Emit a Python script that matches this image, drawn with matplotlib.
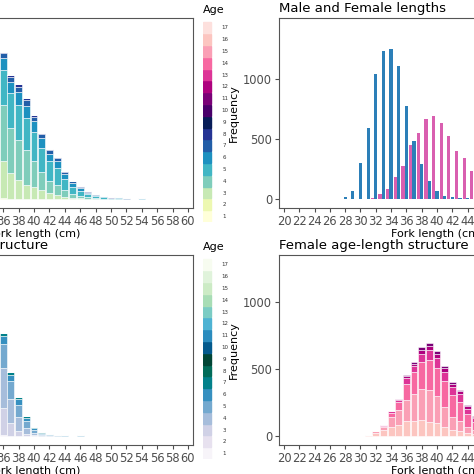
import numpy as np
import matplotlib
matplotlib.use("Agg")
import matplotlib.pyplot as plt

# fork length classes
male_len = list(range(28, 47))
# male counts by age (ages 2..7) per length class
male_ages = [2, 3, 4, 5, 6, 7]
male_cnt = [
    [15, 5, 0, 0, 0, 0], [40, 25, 2, 0, 0, 0], [120, 150, 25, 2, 0, 0],
    [150, 330, 100, 12, 2, 0], [170, 560, 260, 45, 7, 0], [120, 620, 390, 85, 15, 3],
    [80, 540, 460, 130, 30, 7], [40, 400, 450, 160, 45, 13], [10, 200, 300, 175, 62, 25],
    [3, 95, 180, 130, 50, 22], [0, 40, 100, 95, 40, 17], [0, 15, 45, 50, 28, 12],
    [0, 5, 18, 25, 14, 7], [0, 2, 6, 10, 7, 3], [0, 1, 3, 5, 4, 2],
    [0, 0, 2, 4, 3, 1], [0, 0, 1, 2, 1, 1], [0, 0, 1, 1, 1, 0], [0, 0, 1, 2, 1, 1],
]
fem_len = list(range(30, 61))
# female counts by age (ages 3..8) per length class
fem_ages = [3, 4, 5, 6, 7, 8]
fem_cnt = [
    [3, 0, 0, 0, 0, 0], [7, 1, 0, 0, 0, 0], [25, 12, 3, 0, 0, 0], [45, 25, 8, 2, 0, 0],
    [70, 70, 35, 8, 3, 0], [85, 110, 60, 15, 5, 0], [110, 160, 120, 40, 15, 8],
    [115, 200, 160, 45, 20, 10], [122, 226, 204, 62, 30, 23], [105, 240, 220, 75, 34, 20],
    [95, 200, 215, 75, 30, 18], [70, 150, 190, 70, 30, 15], [45, 100, 160, 60, 25, 13],
    [35, 80, 140, 55, 22, 10], [20, 50, 95, 40, 17, 8], [12, 30, 60, 30, 12, 6],
    [6, 18, 40, 22, 9, 5], [3, 10, 25, 16, 7, 4], [2, 6, 17, 12, 5, 3], [1, 3, 10, 8, 3, 2],
    [0, 1, 5, 4, 2, 1], [0, 2, 6, 6, 2, 2], [0, 0, 2, 2, 1, 0], [0, 0, 1, 1, 1, 0],
    [0, 1, 3, 3, 2, 1], [0, 0, 1, 2, 1, 0], [0, 0, 1, 2, 1, 0], [0, 0, 1, 2, 1, 0],
    [0, 0, 1, 2, 1, 0], [0, 0, 1, 2, 1, 0], [0, 0, 1, 2, 1, 0],
]
ages = list(range(1, 18))

pal_all = ["#ffffd9", "#edf8b1", "#c7e9b4", "#7fcdbb", "#41b6c4", "#1d91c0", "#225ea8",
           "#253494", "#081d58", "#49006a", "#7a0177", "#ae017e", "#dd3497", "#f768a1",
           "#fa9fb5", "#fcc5c0", "#fde0dd"]
pal_male = ["#f7f4f9", "#e7e1ef", "#d0d1e6", "#a6bddb", "#74a9cf", "#3690c0", "#02818a",
            "#016c59", "#014636", "#045a8d", "#2b8cbe", "#4eb3d3", "#7bccc4", "#a8ddb5",
            "#ccebc5", "#e0f3db", "#f7fcf0"]
pal_fem = ["#fcc5c0", "#fa9fb5", "#f768a1", "#dd3497", "#ae017e", "#7a0177"]

W = 474.0
def box(l, t, r, b):
    return [l / W, 1 - b / W, (r - l) / W, (b - t) / W]

fig = plt.figure(figsize=(4.74, 4.74), dpi=100)
tcol = "#4d4d4d"

def style(ax, ylim, title=None, ylabel=True):
    ax.set_xlim(19.35, 60.65)
    ax.set_ylim(*ylim)
    ax.set_xticks(range(20, 61, 2))
    ax.set_yticks([0, 500, 1000])
    ax.tick_params(colors=tcol, labelsize=8.3, length=3, labelcolor=tcol, pad=2)
    for s in ax.spines.values():
        s.set_color("#555555")
    ax.set_xlabel("Fork length (cm)", fontsize=8, labelpad=1)
    if ylabel:
        ax.set_ylabel("Frequency", fontsize=8, labelpad=3)
    if title:
        ax.set_title(title, loc="left", fontsize=9.5, pad=4)

def stack(ax, x, cnt, colors):
    cnt = np.array(cnt, dtype=float)
    bottom = np.zeros(len(x))
    for k in range(cnt.shape[1]):
        ax.bar(x, cnt[:, k], bottom=bottom, width=0.9, color=colors[k],
               edgecolor="white", linewidth=0.4)
        bottom += cnt[:, k]

def legend(ax, pal):
    for i, a in enumerate(ages):
        ax.add_patch(plt.Rectangle((0, i), 1, 0.92, color=pal[i]))
        ax.text(2.6, i + 0.45, str(a), fontsize=4, va="center", ha="center", color="#333333")
    ax.text(0, 17.5, "Age", fontsize=8, va="bottom")
    ax.set_xlim(0, 3.5)
    ax.set_ylim(0, 18.3)
    ax.axis("off")

# total
all_len = list(range(28, 61))
tot = np.zeros((len(all_len), 17))
for i, L in enumerate(male_len):
    for k, a in enumerate(male_ages):
        tot[all_len.index(L), a - 1] += male_cnt[i][k]
for i, L in enumerate(fem_len):
    for k, a in enumerate(fem_ages):
        tot[all_len.index(L), a - 1] += fem_cnt[i][k]

ax1 = fig.add_axes(box(-125, 18, 193, 208))
stack(ax1, all_len, tot, pal_all)
style(ax1, (-75, 1508), ylabel=False)
legend(fig.add_axes(box(203, 6, 232, 222)), pal_all)

ax2 = fig.add_axes(box(279, 18, 595, 208))
ax2.bar(male_len, np.array(male_cnt).sum(axis=1), width=0.42, color="#2c7fb8")
ax2.bar(np.array(fem_len) + 0.55, np.array(fem_cnt).sum(axis=1), width=0.42, color="#d95fb0")
style(ax2, (-75, 1508), title="Male and Female lengths")

ax3 = fig.add_axes(box(-125, 255, 193, 445))
mc = np.zeros((len(male_len), 17))
mc[:, 1:7] = male_cnt
stack(ax3, male_len, mc, pal_male)
style(ax3, (-67, 1350), title="Male age-length structure", ylabel=False)
legend(fig.add_axes(box(203, 243, 232, 459)), pal_male)

ax4 = fig.add_axes(box(279, 255, 595, 445))
stack(ax4, fem_len, fem_cnt, pal_fem)
style(ax4, (-67, 1350), title="Female age-length structure")

fig.savefig("out.png", dpi=100)
